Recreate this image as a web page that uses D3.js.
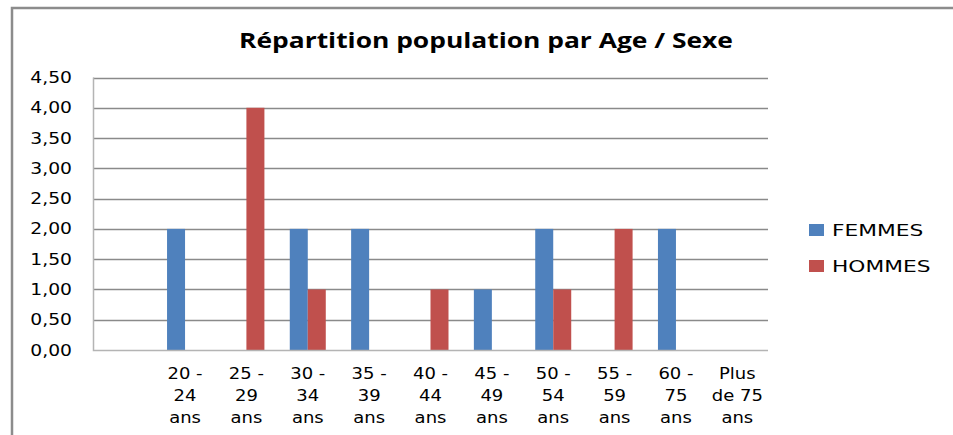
<!DOCTYPE html>
<html>
<head>
<meta charset="utf-8">
<script src="https://cdn.jsdelivr.net/npm/d3@7"></script>
<style>
  body { margin: 0; background: #fff; }
  svg { display: block; }
</style>
</head>
<body>
<div id="chart"></div>
<script>
// values
var categories = ["", "20 - 24 ans", "25 - 29 ans", "30 - 34 ans", "35 - 39 ans", "40 - 44 ans",
                  "45 - 49 ans", "50 - 54 ans", "55 - 59 ans", "60 - 75 ans", "Plus de 75 ans"];
var catLines = [[], ["20 -", "24", "ans"], ["25 -", "29", "ans"], ["30 -", "34", "ans"], ["35 -", "39", "ans"],
                ["40 -", "44", "ans"], ["45 -", "49", "ans"], ["50 -", "54", "ans"], ["55 -", "59", "ans"],
                ["60 -", "75", "ans"], ["Plus", "de 75", "ans"]];
var femmes = [0, 2, 0, 2, 2, 0, 1, 2, 0, 2, 0];
var hommes = [0, 0, 4, 1, 0, 1, 0, 1, 2, 0, 0];
var seriesNames = ["FEMMES", "HOMMES"];
var yTicks = [0, 0.5, 1, 1.5, 2, 2.5, 3, 3.5, 4, 4.5];

var colors = ["#4f81bd", "#c0504d"];
var W = 953, H = 435;
var margin = {top: 77.5, left: 93, right: 185, bottom: 85};
var bodyFont = "'DejaVu Sans', Verdana, sans-serif";

var svg = d3.select("#chart").append("svg")
    .attr("width", W).attr("height", H);

// the screenshot is stretched sideways, so text is widened with a scale
function wideText(g, x, y, sx, anchor, t) {
  return g.append("text")
    .attr("transform", "translate(" + x + "," + y + ") scale(" + sx + ",1)")
    .attr("text-anchor", anchor)
    .text(t);
}

// outer frame (only top and left visible)
svg.append("path")
    .attr("d", "M12,435V8H953")
    .attr("fill", "none")
    .attr("stroke", "#8c8c8c")
    .attr("stroke-width", 2.5);

wideText(svg, 486, 48, 1.2, "middle", "Répartition population par Age / Sexe")
    .attr("font-family", "'Open Sans', sans-serif")
    .attr("font-weight", "bold")
    .attr("font-size", 22)
    .attr("fill", "#000");

var x0 = d3.scaleBand()
    .domain(d3.range(categories.length))
    .range([margin.left, W - margin.right]);

var y = d3.scaleLinear()
    .domain([0, 4.5])
    .range([H - margin.bottom, margin.top]);

var barW = 18;

// gridlines
svg.append("g")
  .selectAll("line")
  .data(yTicks.slice(1))
  .enter().append("line")
    .attr("x1", margin.left).attr("x2", W - margin.right)
    .attr("y1", function(d) { return Math.round(y(d)) + 0.5; })
    .attr("y2", function(d) { return Math.round(y(d)) + 0.5; })
    .attr("stroke", "#8a8a8a")
    .attr("stroke-width", 1.5);

// y axis labels
var yl = svg.append("g")
    .attr("font-family", bodyFont)
    .attr("font-size", 15)
    .attr("fill", "#000");
yTicks.forEach(function(d) {
  wideText(yl, 72, y(d) + 5.5, 1.25, "end", d3.format(".2f")(d).replace(".", ","));
});

// bars
var series = [femmes, hommes];
series.forEach(function(vals, s) {
  svg.append("g")
    .selectAll("rect")
    .data(vals)
    .enter().append("rect")
      .attr("x", function(d, i) { return x0(i) + x0.bandwidth() / 2 - barW + s * barW; })
      .attr("y", function(d) { return y(d); })
      .attr("width", barW)
      .attr("height", function(d) { return y(0) - y(d); })
      .attr("fill", colors[s]);
});

// axis lines
svg.append("path")
    .attr("d", "M" + (margin.left + 0.5) + "," + y(4.5) + "V" + (y(0) + 0.5) + "H" + (W - margin.right))
    .attr("fill", "none")
    .attr("stroke", "#b4b4b4")
    .attr("stroke-width", 1.5);

// category labels
var xl = svg.append("g")
    .attr("font-family", bodyFont)
    .attr("font-size", 15)
    .attr("fill", "#000");
catLines.forEach(function(lines, i) {
  lines.forEach(function(t, k) {
    wideText(xl, x0(i) + x0.bandwidth() / 2, 379 + k * 22, 1.2, "middle", t);
  });
});

// legend
var legend = svg.append("g")
    .attr("font-family", bodyFont)
    .attr("font-size", 15)
    .attr("fill", "#000");
seriesNames.forEach(function(name, s) {
  var ly = 236 + s * 36;
  legend.append("rect")
    .attr("x", 809).attr("y", ly - 12)
    .attr("width", 15).attr("height", 12)
    .attr("fill", colors[s]);
  wideText(legend, 832, ly, 1.45, "start", name);
});
</script>
</body>
</html>
